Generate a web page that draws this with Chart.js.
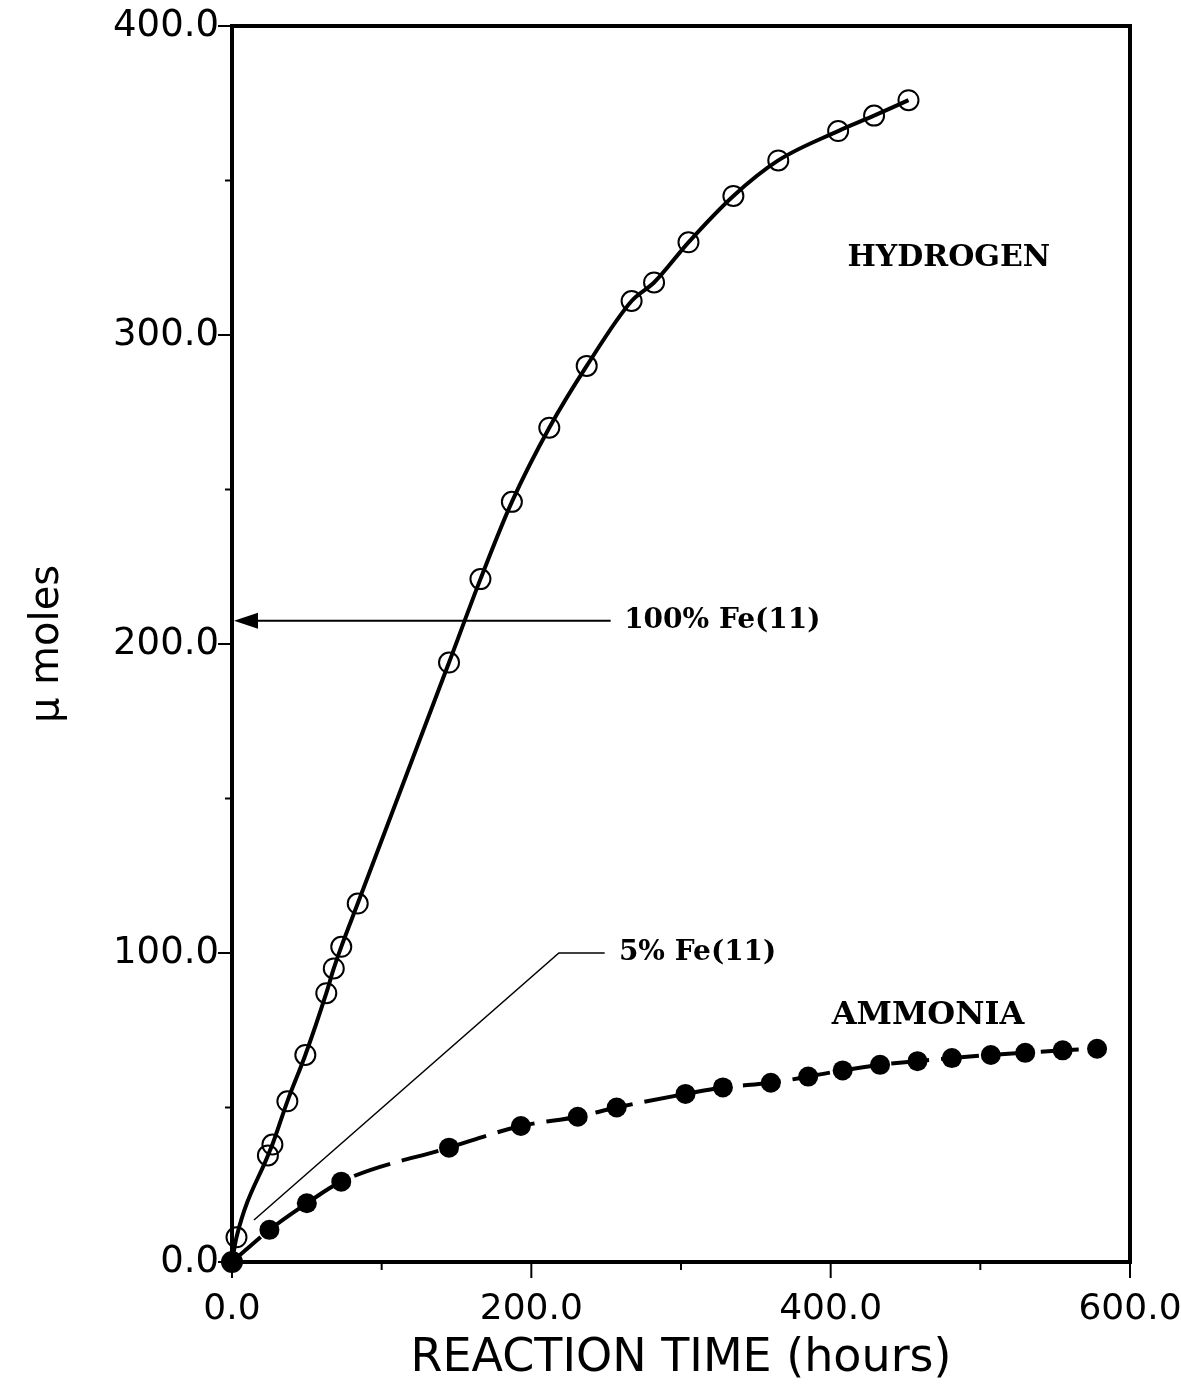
<!DOCTYPE html>
<html>
<head>
<meta charset="utf-8">
<script src="https://cdn.jsdelivr.net/npm/chart.js@4.4.0/dist/chart.umd.min.js"></script>
<style>
  body { margin: 0; background: #fff; }
  #chart { display: block; }
</style>
</head>
<body>
<canvas id="chart" width="1181" height="1391"></canvas>
<script>
// Hydrogen, 100% Fe(II) - open circles
const hydrogenTime  = [0, 3, 24, 27, 37, 49, 63, 68, 73, 84, 145, 166, 187, 212, 237, 267, 282, 305, 335, 365, 405, 429, 452];
const hydrogenMoles = [0, 8, 34.5, 38, 52, 67, 87, 95, 102, 116, 194, 221, 246, 270, 290, 311, 317, 330, 345, 356.5, 366, 371, 376];

// Ammonia - filled circles, dashed line
const ammoniaTime  = [0, 25, 50, 73, 145, 193, 231, 257, 303, 328, 360, 385, 408, 433, 458, 481, 507, 530, 555, 578];
const ammoniaMoles = [0, 10.4, 19, 26, 37, 44, 47, 50, 54.4, 56.5, 58, 60, 62, 63.8, 65, 66, 67, 67.7, 68.5, 69];

// thin 5% Fe(II) line with its leader
const fivePctTime  = [14.7, 218.4, 249];
const fivePctMoles = [13.6, 100, 100];

// axis tick labels
const xTickLabels = [0, 200, 400, 600];
const yTickLabels = [0, 100, 200, 300, 400];

const toPoints = (xs, ys) => xs.map((x, i) => ({ x: x, y: ys[i] }));

// text labels inside the plot, in data units
const notes = [
    { text: 'HYDROGEN', x: 479, y: 325, align: 'center', size: 30 },
    { text: '100% Fe(11)', x: 262, y: 207.5, align: 'left', size: 28 },
    { text: '5% Fe(11)', x: 258.5, y: 100, align: 'left', size: 28 },
    { text: 'AMMONIA', x: 465, y: 79.6, align: 'center', size: 32 }
];
const arrowFrom = { x: 253, y: 207.5 };

const framePlugin = {
    id: 'frame',
    afterDraw(chart) {
        const ctx = chart.ctx;
        const a = chart.chartArea;
        const xs = chart.scales.x;
        const ys = chart.scales.y;
        ctx.save();
        ctx.strokeStyle = '#000';
        ctx.fillStyle = '#000';

        // top and right border
        ctx.lineWidth = 4;
        ctx.beginPath();
        ctx.moveTo(a.left - 2, a.top);
        ctx.lineTo(a.right, a.top);
        ctx.lineTo(a.right, a.bottom + 2);
        ctx.stroke();

        // tick marks (major longer)
        ctx.lineWidth = 2;
        for (let v = 0; v <= 400; v += 50) {
            const py = ys.getPixelForValue(v);
            const len = yTickLabels.includes(v) ? 14 : 7;
            ctx.beginPath();
            ctx.moveTo(a.left - len, py);
            ctx.lineTo(a.left, py);
            ctx.stroke();
        }
        for (let v = 0; v <= 600; v += 100) {
            const px = xs.getPixelForValue(v);
            const len = xTickLabels.includes(v) ? 16 : 8;
            ctx.beginPath();
            ctx.moveTo(px, a.bottom);
            ctx.lineTo(px, a.bottom + len);
            ctx.stroke();
        }

        // arrow pointing to the y axis
        const ay = ys.getPixelForValue(arrowFrom.y);
        const ax = xs.getPixelForValue(arrowFrom.x);
        ctx.lineWidth = 2;
        ctx.beginPath();
        ctx.moveTo(ax, ay);
        ctx.lineTo(a.left + 20, ay);
        ctx.stroke();
        ctx.beginPath();
        ctx.moveTo(a.left + 2, ay);
        ctx.lineTo(a.left + 26, ay - 8);
        ctx.lineTo(a.left + 26, ay + 8);
        ctx.closePath();
        ctx.fill();

        // labels
        ctx.textBaseline = 'middle';
        notes.forEach(n => {
            ctx.font = 'bold ' + n.size + 'px "DejaVu Serif"';
            ctx.textAlign = n.align;
            ctx.fillText(n.text, xs.getPixelForValue(n.x), ys.getPixelForValue(n.y));
        });
        ctx.restore();
    }
};

// keep the plot box where the figure has it: no automatic label padding
const noPadding = (scale) => {
    scale.paddingTop = 0;
    scale.paddingBottom = 0;
    scale.paddingLeft = 0;
    scale.paddingRight = 0;
};

new Chart(document.getElementById('chart'), {
    type: 'scatter',
    data: {
        datasets: [
            {
                label: 'Hydrogen',
                data: toPoints(hydrogenTime, hydrogenMoles),
                showLine: true,
                borderColor: '#000',
                borderWidth: 4,
                cubicInterpolationMode: 'monotone',
                pointRadius: 10,
                pointBorderWidth: 2,
                pointBorderColor: '#000',
                pointBackgroundColor: 'rgba(0,0,0,0)',
                clip: false
            },
            {
                label: 'Ammonia',
                data: toPoints(ammoniaTime, ammoniaMoles),
                showLine: true,
                borderColor: '#000',
                borderWidth: 4,
                borderDash: [38, 12],
                cubicInterpolationMode: 'monotone',
                pointRadius: 10,
                pointBorderWidth: 0,
                pointBackgroundColor: '#000',
                clip: false
            },
            {
                label: '5% Fe(11)',
                data: toPoints(fivePctTime, fivePctMoles),
                showLine: true,
                borderColor: '#000',
                borderWidth: 1.5,
                pointRadius: 0,
                clip: false
            }
        ]
    },
    options: {
        responsive: false,
        animation: false,
        layout: { padding: { left: 20, right: 51, top: 26, bottom: 2 } },
        plugins: {
            legend: { display: false },
            tooltip: { enabled: false }
        },
        scales: {
            x: {
                type: 'linear',
                min: 0,
                max: 600,
                afterFit: (scale) => { scale.height = 1391 - 2 - 1262; noPadding(scale); },
                border: { display: true, color: '#000', width: 4 },
                grid: { display: true, drawOnChartArea: false, drawTicks: false, color: 'rgba(0,0,0,0)' },
                ticks: {
                    stepSize: 100,
                    padding: 26,
                    maxRotation: 0,
                    autoSkip: false,
                    color: '#000',
                    font: { family: '"DejaVu Sans"', size: 36 },
                    callback: (v) => xTickLabels.includes(v) ? v.toFixed(1) : ''
                },
                title: {
                    display: true,
                    text: 'REACTION TIME (hours)',
                    color: '#000',
                    padding: { top: 0, bottom: 2 },
                    font: { family: '"DejaVu Sans"', size: 46 }
                }
            },
            y: {
                type: 'linear',
                min: 0,
                max: 400,
                afterFit: (scale) => { scale.width = 232 - 20; noPadding(scale); },
                border: { display: true, color: '#000', width: 4 },
                grid: { display: true, drawOnChartArea: false, drawTicks: false, color: 'rgba(0,0,0,0)' },
                ticks: {
                    stepSize: 50,
                    padding: 13,
                    autoSkip: false,
                    color: '#000',
                    font: { family: '"DejaVu Sans"', size: 37 },
                    callback: (v) => yTickLabels.includes(v) ? v.toFixed(1) : ''
                },
                title: {
                    display: true,
                    text: 'μ moles',
                    color: '#000',
                    padding: { top: 4, bottom: 4 },
                    font: { family: '"DejaVu Sans"', size: 40 }
                }
            }
        }
    },
    plugins: [framePlugin]
});
</script>
</body>
</html>
